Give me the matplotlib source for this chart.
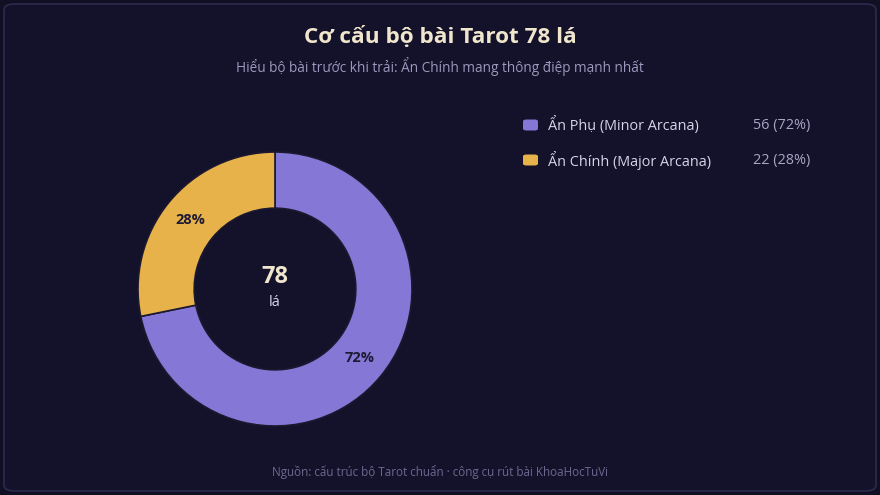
import matplotlib.pyplot as plt
from matplotlib.patches import FancyBboxPatch

plt.rcParams['font.family'] = ['Open Sans', 'DejaVu Sans']

#%% data
labels = ['Ẩn Phụ (Minor Arcana)', 'Ẩn Chính (Major Arcana)']
counts = [56, 22]
colors = ['#8577d6', '#e8b24a']
total = sum(counts)

bg = '#14112a'

#%% figure
fig = plt.figure(figsize=(8.8, 4.95), dpi=100)
fig.patch.set_facecolor('#110f24')
panel = FancyBboxPatch((4 / 880, 4 / 495), 872 / 880, 487 / 495,
                       boxstyle='round,pad=0,rounding_size=0.012',
                       transform=fig.transFigure, facecolor=bg,
                       edgecolor='#2e2a4c', linewidth=1.2, zorder=-5)
fig.patches.append(panel)

fig.text(0.5, 1 - 37 / 495, 'Cơ cấu bộ bài Tarot 78 lá', ha='center', va='center',
         fontsize=16.2, fontweight='bold', color='#efe6cc')
fig.text(0.5, 1 - 66 / 495, 'Hiểu bộ bài trước khi trải: Ẩn Chính mang thông điệp mạnh nhất',
         ha='center', va='center', fontsize=9.8, color='#9d98bd')
fig.text(0.5, 1 - 472 / 495, 'Nguồn: cấu trúc bộ Tarot chuẩn · công cụ rút bài KhoaHocTuVi',
         ha='center', va='center', fontsize=8.4, color='#6d6890')

#%% donut
ax = fig.add_axes([(275 - 137) / 880, (206 - 137) / 495, 274 / 880, 274 / 495])
ax.set_facecolor('none')
wedges, texts, autotexts = ax.pie(
    counts, colors=colors, startangle=90, counterclock=False,
    radius=1, autopct='%1.0f%%', pctdistance=0.8,
    wedgeprops=dict(width=0.41, edgecolor='#1c1830', linewidth=1.2),
    textprops=dict(fontsize=10.5, fontweight='bold', color='#1e1a33'))
ax.set_xlim(-1, 1)
ax.set_ylim(-1, 1)
ax.axis('off')

ax.text(0, 0.09, str(total), ha='center', va='center', fontsize=17,
        fontweight='bold', color='#efe6cc')
ax.text(0, -0.1, 'lá', ha='center', va='center', fontsize=10.5, color='#d8d4ec')

#%% legend
for i, (lab, n, c) in enumerate(zip(labels, counts, colors)):
    y = 1 - (125 + 35 * i) / 495
    fig.patches.append(FancyBboxPatch((523 / 880, y - 5.5 / 495), 15 / 880, 11 / 495,
                                      boxstyle='round,pad=0,rounding_size=0.004',
                                      transform=fig.transFigure, facecolor=c,
                                      edgecolor='none'))
    fig.text(548 / 880, y, lab, ha='left', va='center', fontsize=10.4, color='#d8d4ec')
    fig.text(753 / 880, y, f'{n} ({n / total * 100:.0f}%)', ha='left', va='center',
             fontsize=10.4, color='#a9a5c6')

plt.savefig('out.png', dpi=100, facecolor=fig.get_facecolor())
